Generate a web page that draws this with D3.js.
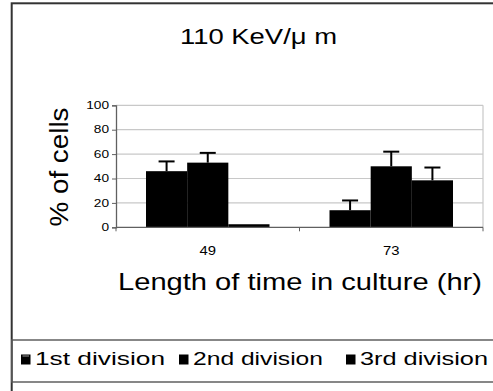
<!DOCTYPE html>
<html>
<head>
<meta charset="utf-8">
<script src="https://cdn.jsdelivr.net/npm/d3@7"></script>
<style>
body { margin: 0; background: #fff; }
svg text { font-family: Arial, "Liberation Sans", sans-serif; fill: #000; }
</style>
</head>
<body>
<svg width="493" height="391"></svg>
<script>
// chart values
var categories = ["49", "73"];
var seriesNames = ["1st division", "2nd division", "3rd division"];
var firstDiv = [46, 14];
var secondDiv = [53, 50];
var thirdDiv = [2.5, 38.5];
var firstErr = [8, 8];
var secondErr = [8, 12];
var thirdErr = [0, 10.5];
var yTicks = [0, 20, 40, 60, 80, 100];

var values = [firstDiv, secondDiv, thirdDiv];
var errors = [firstErr, secondErr, thirdErr];

var svg = d3.select("svg");

// outer frame
svg.append("rect")
	.attr("x", 11.7).attr("y", 3.3)
	.attr("width", 490).attr("height", 400)
	.attr("fill", "none")
	.attr("stroke", "#333")
	.attr("stroke-width", 2);

svg.append("text")
	.attr("x", 180).attr("y", 44)
	.attr("textLength", 157)
	.attr("lengthAdjust", "spacingAndGlyphs")
	.style("font-size", "22px")
	.text("110 KeV/\u03bc m");

var plotLeft = 116, plotRight = 483, plotTop = 105.3, plotBottom = 227.3;

var x = d3.scaleBand().domain(categories).range([plotLeft, plotRight]);
var xs = d3.scaleBand().domain(seriesNames).range([30, x.bandwidth() - 30]);
var y = d3.scaleLinear().domain([0, 100]).range([plotBottom, plotTop]);

// gridlines
svg.append("g").selectAll("line")
	.data(yTicks.slice(1))
	.enter()
	.append("line")
	.attr("x1", plotLeft).attr("x2", plotRight)
	.attr("y1", function(d) { return y(d); })
	.attr("y2", function(d) { return y(d); })
	.attr("stroke", "#c8c8c8")
	.attr("stroke-width", 1.2);

svg.append("line")
	.attr("x1", plotRight).attr("x2", plotRight)
	.attr("y1", plotTop).attr("y2", plotBottom)
	.attr("stroke", "#c8c8c8")
	.attr("stroke-width", 1.2);

// bars
var groups = svg.append("g").selectAll("g")
	.data(values)
	.enter()
	.append("g");

groups.selectAll("rect")
	.data(function(d, i) {
		return d.map(function(v, j) { return {s: i, c: j, v: v}; });
	})
	.enter()
	.append("rect")
	.attr("x", function(d) { return x(categories[d.c]) + xs(seriesNames[d.s]); })
	.attr("width", xs.bandwidth())
	.attr("y", function(d) { return y(d.v); })
	.attr("height", function(d) { return y(0) - y(d.v); })
	.attr("fill", "#000");

// error bars
var errData = [];
values.forEach(function(arr, i) {
	arr.forEach(function(v, j) {
		if (errors[i][j] > 0) errData.push({s: i, c: j, v: v, e: errors[i][j]});
	});
});

function barMid(d) {
	return x(categories[d.c]) + xs(seriesNames[d.s]) + xs.bandwidth() / 2;
}

var eb = svg.append("g").selectAll("g")
	.data(errData)
	.enter()
	.append("g")
	.attr("stroke", "#000")
	.attr("stroke-width", 2);

eb.append("line")
	.attr("x1", barMid)
	.attr("x2", barMid)
	.attr("y1", function(d) { return y(d.v); })
	.attr("y2", function(d) { return y(d.v + d.e); });

eb.append("line")
	.attr("x1", function(d) { return barMid(d) - 8; })
	.attr("x2", function(d) { return barMid(d) + 8; })
	.attr("y1", function(d) { return y(d.v + d.e); })
	.attr("y2", function(d) { return y(d.v + d.e); });

// y axis
var yAxis = svg.append("g")
	.attr("transform", "translate(" + plotLeft + ",0)")
	.call(d3.axisLeft(y).tickValues(yTicks).tickSize(4).tickPadding(3));
yAxis.select(".domain").attr("stroke", "#606060").attr("stroke-width", 1.3);
yAxis.selectAll(".tick line").attr("stroke", "#606060");
yAxis.selectAll("text")
	.style("font-size", "10px")
	.attr("textLength", function(d) { return String(d).length * 7.6; })
	.attr("lengthAdjust", "spacingAndGlyphs");

// x axis
var xAxis = svg.append("g")
	.attr("transform", "translate(0," + plotBottom + ")");
xAxis.append("line")
	.attr("x1", plotLeft).attr("x2", plotRight)
	.attr("y1", 0).attr("y2", 0)
	.attr("stroke", "#606060")
	.attr("stroke-width", 1.3);
xAxis.selectAll(".tk")
	.data([plotLeft, x(categories[1]), plotRight])
	.enter()
	.append("line")
	.attr("x1", function(d) { return d; })
	.attr("x2", function(d) { return d; })
	.attr("y1", 0).attr("y2", 4)
	.attr("stroke", "#606060");
xAxis.selectAll("text")
	.data(categories)
	.enter()
	.append("text")
	.attr("x", function(d) { return x(d) + x.bandwidth() / 2; })
	.attr("y", 27.5)
	.attr("text-anchor", "middle")
	.style("font-size", "12px")
	.attr("textLength", 16.5)
	.attr("lengthAdjust", "spacingAndGlyphs")
	.text(function(d) { return d; });

// axis titles
svg.append("text")
	.attr("transform", "translate(68,167) rotate(-90)")
	.attr("text-anchor", "middle")
	.attr("textLength", 119)
	.attr("lengthAdjust", "spacingAndGlyphs")
	.style("font-size", "25px")
	.text("% of cells");

svg.append("text")
	.attr("x", 118).attr("y", 290)
	.attr("textLength", 364)
	.attr("lengthAdjust", "spacingAndGlyphs")
	.style("font-size", "24px")
	.text("Length of time in culture (hr)");

// legend box
svg.append("rect")
	.attr("x", 11.7).attr("y", 340)
	.attr("width", 490).attr("height", 42)
	.attr("fill", "none")
	.attr("stroke", "#555")
	.attr("stroke-width", 1.4);

var legX = [21, 179, 346];
var legW = [130, 130, 128];
var leg = svg.append("g").selectAll("g")
	.data(seriesNames)
	.enter()
	.append("g")
	.attr("transform", function(d, i) { return "translate(" + legX[i] + ",354.5)"; });

leg.append("rect")
	.attr("width", 9.5).attr("height", 10)
	.attr("fill", "#000");

leg.filter(function(d, i) { return i === 0; })
	.append("line")
	.attr("x1", 1.5).attr("x2", 8)
	.attr("y1", 1.5).attr("y2", 1.5)
	.attr("stroke", "#999")
	.attr("stroke-width", 1);

leg.append("text")
	.attr("x", 14).attr("y", 10.5)
	.attr("textLength", function(d, i) { return legW[i]; })
	.attr("lengthAdjust", "spacingAndGlyphs")
	.style("font-size", "18px")
	.text(function(d) { return d; });
</script>
</body>
</html>
